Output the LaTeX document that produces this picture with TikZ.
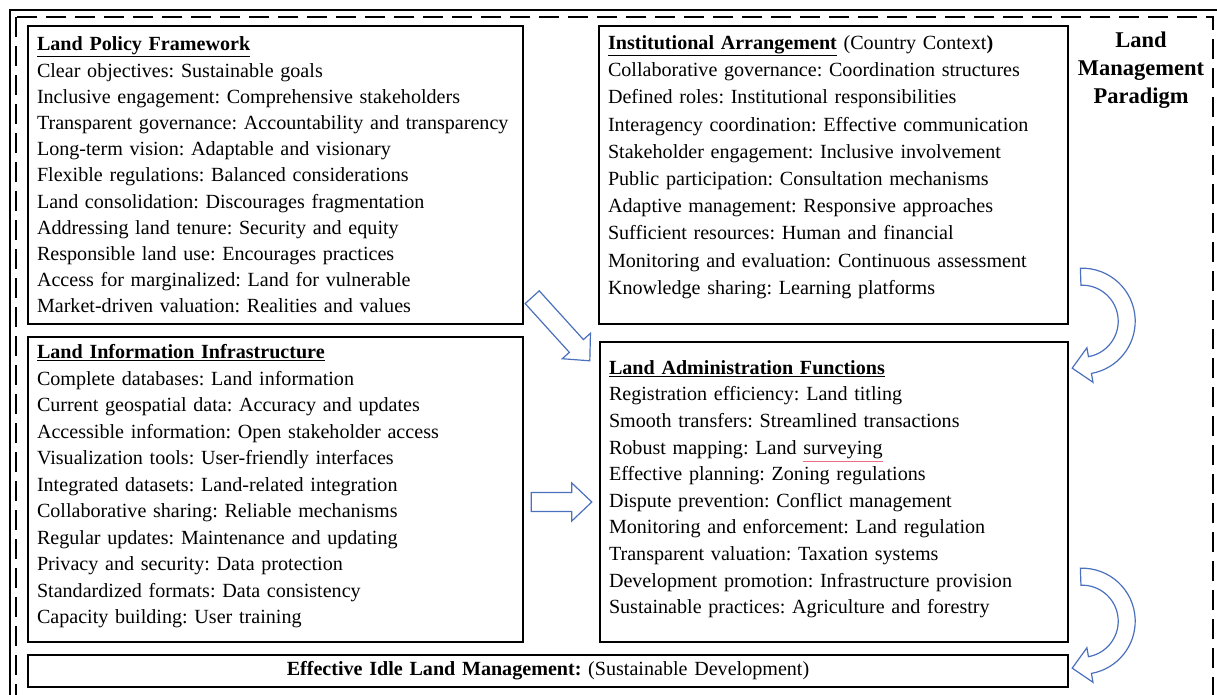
\documentclass[tikz,border=0pt]{standalone}
\usepackage{fontspec}
\setmainfont{Liberation Serif}
\usetikzlibrary{calc}

\definecolor{arrowblue}{RGB}{74,112,190}
\definecolor{typored}{RGB}{235,110,130}

\newcommand\heading[1]{\underline{\textbf{#1}}}
\newcommand\padbelow[1]{\rule[-#1]{0pt}{#1}}
\newsavebox\typobox
\newcommand\typo[1]{\sbox\typobox{#1}\rlap{\color{typored}\rule[-8pt]{\wd\typobox}{1.3pt}}\usebox\typobox}

% hollow straight arrow from #1 to #2
\newcommand\blockarrow[2]{%
	\coordinate (ab) at ($(#2)!20pt!(#1)$);
	\draw[flow] ($(#1)!9.5pt!90:(#2)$) -- ($(ab)!9.5pt!90:(#2)$) -- ($(ab)!19pt!90:(#2)$)
		-- (#2) -- ($(ab)!19pt!-90:(#2)$) -- ($(ab)!9.5pt!-90:(#2)$) -- ($(#1)!9.5pt!-90:(#2)$) -- cycle;}
% hollow curved arrow turning round the centre #1
\newcommand\turnarrow[1]{%
	\draw[flow] ($(#1)+(-92:53)$) arc[start angle=-92, end angle=80, radius=53]
		-- ($(#1)+(80:62)$) -- ($(#1)+(80:44.5)+(170:18)$) -- ($(#1)+(80:27)$)
		-- ($(#1)+(80:36)$) arc[start angle=80, end angle=-92, radius=36] -- cycle;}

\begin{document}
\frenchspacing
\begin{tikzpicture}[x=1pt, y=-1pt,
	every node/.style={font=\fontsize{20.1}{26.2}\selectfont},
	panel/.style={draw, line width=2.4pt, align=left, inner xsep=9pt, inner ysep=0pt},
	flow/.style={draw=arrowblue, line width=1.2pt, fill=white, line join=miter}]
	\useasboundingbox (0,0) rectangle (1217,695);
	\clip (0,0) rectangle (1217,695);
	\draw[line width=1.4pt] (10,10) rectangle (1240,720);
	\draw[line width=2.6pt, dash pattern=on 20pt off 9pt] (16,17) rectangle (1213,730);

	\node[panel, text width=477pt, minimum height=298pt] (policy) at (275.5,175) {\heading{Land Policy Framework}\\
		Clear objectives: Sustainable goals\\
		Inclusive engagement: Comprehensive stakeholders\\
		Transparent governance: Accountability and transparency\\
		Long-term vision: Adaptable and visionary\\
		Flexible regulations: Balanced considerations\\
		Land consolidation: Discourages fragmentation\\
		Addressing land tenure: Security and equity\\
		Responsible land use: Encourages practices\\
		Access for marginalized: Land for vulnerable\\
		Market-driven valuation: Realities and values};
	\node[panel, text width=451pt, minimum height=298pt, font=\fontsize{20.1}{27.2}\selectfont] (institution) at (833.5,175) {\heading{Institutional Arrangement} (Country Context\textbf{)}\\
		Collaborative governance: Coordination structures\\
		Defined roles: Institutional responsibilities\\
		Interagency coordination: Effective communication\\
		Stakeholder engagement: Inclusive involvement\\
		Public participation: Consultation mechanisms\\
		Adaptive management: Responsive approaches\\
		Sufficient resources: Human and financial\\
		Monitoring and evaluation: Continuous assessment\\
		Knowledge sharing: Learning platforms\padbelow{20pt}};
	\node[panel, text width=477pt, minimum height=305pt, font=\fontsize{20.1}{26.5}\selectfont] (info) at (275.5,489.5) {\heading{Land Information Infrastructure}\\
		Complete databases: Land information\\
		Current geospatial data: Accuracy and updates\\
		Accessible information: Open stakeholder access\\
		Visualization tools: User-friendly interfaces\\
		Integrated datasets: Land-related integration\\
		Collaborative sharing: Reliable mechanisms\\
		Regular updates: Maintenance and updating\\
		Privacy and security: Data protection\\
		Standardized formats: Data consistency\\
		Capacity building: User training\padbelow{11pt}};
	\node[panel, text width=450pt, minimum height=300pt, font=\fontsize{20.1}{26.6}\selectfont] (admin) at (834,492) {\heading{Land Administration Functions}\\
		Registration efficiency: Land titling\\
		Smooth transfers: Streamlined transactions\\
		Robust mapping: Land \typo{surveying}\\
		Effective planning: Zoning regulations\\
		Dispute prevention: Conflict management\\
		Monitoring and enforcement: Land regulation\\
		Transparent valuation: Taxation systems\\
		Development promotion: Infrastructure provision\\
		Sustainable practices: Agriculture and forestry\padbelow{10pt}};
	\node[panel, align=center, text width=1022pt, minimum height=32pt] (goal) at (548,671) {\textbf{Effective Idle Land Management:} (Sustainable Development)};
	\node[font=\fontsize{22.5}{28}\selectfont\bfseries, align=center] (paradigm) at (1141,70) {Land\\Management\\Paradigm};

	\coordinate (d1) at ($(policy.south east)+(8,-28)$);
	\coordinate (d2) at ($(admin.north west)+(-9,20)$);
	\blockarrow{d1}{d2}
	\coordinate (r1) at ($(info.east)+(7,12.5)$);
	\coordinate (r2) at ($(admin.west)+(-7,10)$);
	\blockarrow{r1}{r2}
	\coordinate (c1) at ($(institution.south east)+(13,-4)$);
	\turnarrow{c1}
	\coordinate (c2) at ($(admin.south east)+(13,-22)$);
	\turnarrow{c2}
\end{tikzpicture}
\end{document}
